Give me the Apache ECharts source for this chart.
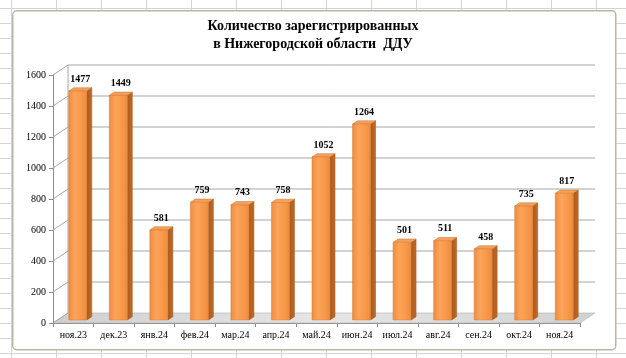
<!DOCTYPE html>
<html>
<head>
<meta charset="utf-8">
<script src="https://cdn.jsdelivr.net/npm/echarts@6/dist/echarts.min.js"></script>
<style>
html,body{margin:0;padding:0;}
body{
  width:626px;height:358px;overflow:hidden;background:#fff;
  background-image:linear-gradient(to right,#d4d4d4 1px,transparent 1px),linear-gradient(to bottom,#d4d4d4 1px,transparent 1px);
  background-size:45px 15px;background-position:11px 8px;
}
#c{width:626px;height:358px;}
</style>
</head>
<body>
<div id="c"></div>
<script>
var categories = ['ноя.23','дек.23','янв.24','фев.24','мар.24','апр.24','май.24','июн.24','июл.24','авг.24','сен.24','окт.24','ноя.24'];
var values = [1477,1449,581,759,743,758,1052,1264,501,511,458,735,817];
var yTicks = [0,200,400,600,800,1000,1200,1400,1600];

var SERIF = "'Liberation Serif','Times New Roman',serif";
var DX = 15, DY = -10;

var chart = echarts.init(document.getElementById('c'), null, {renderer:'canvas'});

function wallItem(params, api){
  var cs = params.coordSys;
  var v = api.value(1);
  var p = api.coord([0, v]);
  var y = p[1];
  var x0 = cs.x, w = cs.width;
  var children = [];
  if (v === 0){
    children.push({
      type:'polygon',
      shape:{points:[[x0,y],[x0+w,y],[x0+w+DX,y+DY],[x0+DX,y+DY]]},
      style:{fill:new echarts.graphic.LinearGradient(0,0,1,0,[
        {offset:0,color:'#cfcfcf'},{offset:0.5,color:'#e6e6e6'},{offset:1,color:'#d2d2d2'}]),
        stroke:'#b0b0b0',lineWidth:0.6}
    });
    var top = api.coord([0,1600])[1];
    children.push({type:'line',shape:{x1:x0+DX,y1:top+DY,x2:x0+DX,y2:y+DY},style:{stroke:'#a6a6a6',lineWidth:1}});
  } else {
    children.push({type:'line',shape:{x1:x0+DX,y1:y+DY,x2:x0+w+DX,y2:y+DY},style:{stroke:'#a6a6a6',lineWidth:1}});
  }
  children.push({type:'line',shape:{x1:x0,y1:y,x2:x0+DX,y2:y+DY},style:{stroke:'#a6a6a6',lineWidth:1}});
  return {type:'group',children:children};
}

function barItem(params, api){
  var i = api.value(0), v = api.value(1);
  var c = api.coord([i, v]);
  var b = api.coord([i, 0]);
  var ox = 4.5, oy = -3, hw = 9, sx = 5, sy = -3.3;
  var xl = c[0] + ox - hw, xr = c[0] + ox + hw;
  var yt = c[1] + oy, yb = b[1] + oy;
  return {type:'group',children:[
    {type:'polygon',shape:{points:[[xr,yt],[xr+sx,yt+sy],[xr+sx,yb+sy],[xr,yb]]},
      style:{fill:new echarts.graphic.LinearGradient(0,0,1,0,[{offset:0,color:'#a95a1c'},{offset:1,color:'#c26c28'}]),stroke:'#9a5018',lineWidth:0.5}},
    {type:'polygon',shape:{points:[[xl,yt],[xr,yt],[xr+sx,yt+sy],[xl+sx,yt+sy]]},
      style:{fill:'#f3a25e',stroke:'#c8702c',lineWidth:0.5}},
    {type:'rect',shape:{x:xl,y:yt,width:xr-xl,height:yb-yt},
      style:{fill:new echarts.graphic.LinearGradient(0,0,1,0,[
        {offset:0,color:'#ef8c40'},{offset:0.35,color:'#fba45c'},{offset:0.7,color:'#f89849'},{offset:1,color:'#ec8c40'}]),
        stroke:'#d97a30',lineWidth:0.5}},
    {type:'text',style:{text:String(v),x:xl+hw+2.5,y:yt-12,align:'center',verticalAlign:'middle',
      font:'bold 10px '+SERIF,fill:'#000'}}
  ]};
}

chart.setOption({
  animation:false,
  backgroundColor:'transparent',
  graphic:[{type:'rect',left:12,top:10,z:-10,shape:{width:603,height:339,r:4},
    style:{fill:'#fff',stroke:'#bdb5a3',lineWidth:1.5}}],
  title:{text:'Количество зарегистрированных\nв Нижегородской области  ДДУ',left:'center',top:12,
    textStyle:{fontFamily:SERIF,fontWeight:'bold',fontSize:14,lineHeight:18,color:'#000'}},
  grid:{left:53,right:46,top:75,bottom:35},
  xAxis:{type:'category',data:categories,
    axisLine:{show:true,lineStyle:{color:'#8c8c8c'}},
    axisTick:{show:true,length:4,lineStyle:{color:'#8c8c8c'}},
    axisLabel:{fontFamily:SERIF,fontSize:10,color:'#000',margin:7,interval:0},
    splitLine:{show:false}},
  yAxis:{type:'value',min:0,max:1600,interval:200,
    axisLine:{show:true,lineStyle:{color:'#8c8c8c'}},
    axisTick:{show:true,length:4,lineStyle:{color:'#8c8c8c'}},
    axisLabel:{fontFamily:SERIF,fontSize:10,color:'#000',margin:7,formatter:function(v){return String(v);}},
    splitLine:{show:false}},
  series:[
    {type:'custom',clip:false,z:1,renderItem:wallItem,data:yTicks.map(function(t){return [0,t];}),encode:{x:0,y:1},silent:true},
    {type:'custom',clip:false,z:3,renderItem:barItem,data:values.map(function(v,i){return [i,v];}),encode:{x:0,y:1}}
  ]
});
</script>
</body>
</html>
